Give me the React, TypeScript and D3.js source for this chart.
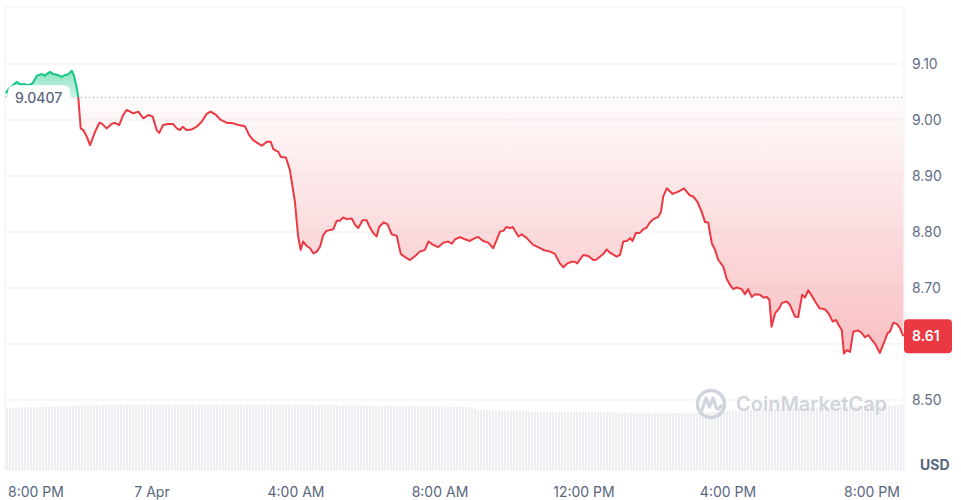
import React from 'react';
import * as d3 from 'd3';

// Hours relative to 7 Apr 00:00 and price in USD
const hours = [
  -4.06, -3.99, -3.76, -3.67, -3.53, -3.44, -3.31, -3.2, -3.06, -2.97, -2.93, -2.83, -2.74, -2.6, -2.51, -2.42, -2.32, -2.23, -2.17, -2.09, -2.05,
  -1.98, -1.91, -1.81, -1.72, -1.58, -1.46, -1.4, -1.26, -1.12, -1.03, -0.91, -0.8, -0.7, -0.52, -0.38, -0.24, -0.1, 0.02,
  0.13, 0.2, 0.31, 0.45, 0.58, 0.69, 0.78, 0.85, 0.96, 1.1, 1.24, 1.38, 1.52, 1.63, 1.78, 1.89, 2.08, 2.26, 2.4, 2.58, 2.7, 2.81,
  3.05, 3.19, 3.3, 3.37, 3.51, 3.58, 3.72, 3.83, 3.97, 4.06, 4.13, 4.2, 4.3, 4.39, 4.48, 4.58, 4.67, 4.76, 4.85, 5.04, 5.13, 5.22,
  5.31, 5.41, 5.55, 5.64, 5.73, 5.85, 5.96, 6.06, 6.15, 6.24, 6.31, 6.43, 6.54, 6.66, 6.8, 6.91, 7.03, 7.17, 7.31, 7.44, 7.58,
  7.68, 7.81, 7.95, 8.09, 8.23, 8.33, 8.42, 8.56, 8.69, 8.83, 8.97, 9.06, 9.2, 9.34, 9.48, 9.67, 9.76, 9.85, 9.94, 10.02, 10.18,
  10.27, 10.41, 10.59, 10.73, 10.87, 11.06, 11.19, 11.33, 11.43, 11.52, 11.66, 11.75, 11.81, 11.98, 12.12, 12.26, 12.35, 12.54,
  12.63, 12.72, 12.91, 13.0, 13.09, 13.19, 13.28, 13.35, 13.44, 13.54, 13.65, 13.74, 13.83, 13.93, 14.06, 14.14, 14.2, 14.3,
  14.46, 14.62, 14.78, 14.93, 15.04, 15.15, 15.27, 15.36, 15.45, 15.55, 15.64, 15.73, 15.87, 15.96, 16.06, 16.15, 16.24, 16.38,
  16.47, 16.56, 16.66, 16.75, 16.89, 16.98, 17.08, 17.15, 17.21, 17.31, 17.43, 17.49, 17.63, 17.72, 17.86, 17.95, 18.06, 18.14,
  18.23, 18.33, 18.42, 18.54, 18.69, 18.79, 18.91, 19.0, 19.09, 19.16, 19.22, 19.3, 19.39, 19.48, 19.62, 19.71, 19.81, 19.9,
  19.99, 20.08, 20.22, 20.36, 20.43, 20.5, 20.59, 20.69, 20.78, 20.87,
];
const prices = [
  9.048, 9.055, 9.068, 9.064, 9.064, 9.062, 9.066, 9.079, 9.082, 9.079, 9.082, 9.086, 9.082, 9.08, 9.077, 9.08, 9.082, 9.088, 9.08, 9.057, 9.042,
  8.985, 8.982, 8.97, 8.955, 8.979, 8.995, 8.994, 8.985, 8.993, 8.995, 8.991, 9.009, 9.018, 9.012, 9.015, 9.003, 9.009, 9.006,
  8.982, 8.977, 8.991, 8.993, 8.993, 8.985, 8.982, 8.988, 8.982, 8.983, 8.988, 8.997, 9.011, 9.015, 9.009, 9.001, 8.995, 8.994, 8.991, 8.989, 8.973, 8.964,
  8.954, 8.961, 8.961, 8.948, 8.943, 8.934, 8.933, 8.911, 8.854, 8.792, 8.768, 8.783, 8.775, 8.771, 8.762, 8.765, 8.774, 8.795, 8.802, 8.805, 8.82, 8.82,
  8.826, 8.823, 8.824, 8.813, 8.807, 8.821, 8.821, 8.807, 8.798, 8.792, 8.809, 8.817, 8.814, 8.796, 8.793, 8.761, 8.755, 8.75, 8.757, 8.765, 8.768,
  8.783, 8.777, 8.773, 8.781, 8.783, 8.779, 8.787, 8.791, 8.787, 8.784, 8.789, 8.791, 8.784, 8.781, 8.771, 8.801, 8.802, 8.809, 8.807, 8.809, 8.792,
  8.796, 8.789, 8.777, 8.773, 8.768, 8.765, 8.761, 8.744, 8.737, 8.743, 8.747, 8.747, 8.744, 8.759, 8.757, 8.75, 8.751, 8.761,
  8.769, 8.763, 8.756, 8.759, 8.783, 8.784, 8.789, 8.784, 8.798, 8.798, 8.805, 8.808, 8.817, 8.823, 8.827, 8.836, 8.863, 8.878,
  8.868, 8.872, 8.878, 8.866, 8.863, 8.854, 8.836, 8.818, 8.817, 8.78, 8.768, 8.75, 8.738, 8.717, 8.705, 8.698, 8.701, 8.698,
  8.689, 8.698, 8.684, 8.689, 8.688, 8.683, 8.684, 8.679, 8.631, 8.655, 8.664, 8.673, 8.676, 8.67, 8.649, 8.648, 8.688, 8.683,
  8.696, 8.686, 8.676, 8.664, 8.662, 8.655, 8.64, 8.643, 8.632, 8.625, 8.583, 8.589, 8.586, 8.622, 8.624, 8.62, 8.612, 8.616,
  8.608, 8.601, 8.584, 8.607, 8.619, 8.622, 8.638, 8.636, 8.628, 8.614,
];

// 24h volume (USD millions), sparse readings
const volHours = [-4.08, -0.61, 2.72, 6.89, 8.83, 9.11, 11.89, 14.67, 16.61, 20.89];
const volumes = [310, 325, 325, 320, 315, 300, 290, 285, 300, 325];

const priceTicks = [8.5, 8.6, 8.7, 8.8, 8.9, 9.0, 9.1];
const timeTickHours = [-4, 0, 4, 8, 12, 16, 20];
const openPrice = 9.0407;
const openLabel = '9.0407';
const lastLabel = '8.61';
const currency = 'USD';
const watermark = 'CoinMarketCap';

const W = 961;
const H = 500;
const L = 5, R = 904, T = 7, B = 470;
const base = new Date(2025, 3, 7, 0, 0, 0).getTime();
const toDate = (h: number) => new Date(base + h * 3600e3);

const GREEN = '#16c784';
const RED = '#ea3943';
const GRID = '#eff1f4';
const TEXT = '#58667e';
const FONT = 'Inter, "Noto Sans", sans-serif';

export default function App() {
  const x = d3.scaleTime().domain([toDate(-4.083), toDate(20.889)]).range([L, R]);
  const y = d3.scaleLinear().domain([8.375, 9.2018]).range([B, T]);
  const yVol = d3.scaleLinear().domain([0, 400]).range([B, B - 80]);

  const data = hours.map((h, i) => ({ t: toDate(h), p: prices[i] }));
  const by = y(openPrice);

  const line = d3.line<{ t: Date; p: number }>().x(d => x(d.t)).y(d => y(d.p));
  const area = d3.area<{ t: Date; p: number }>().x(d => x(d.t)).y0(by).y1(d => y(d.p));

  const vdata = volHours.map((h, i) => ({ t: toDate(h), v: volumes[i] }));
  const vArea = d3.area<{ t: Date; v: number }>()
    .x(d => Math.max(L, Math.min(R, x(d.t))))
    .y0(B)
    .y1(d => yVol(d.v))
    .curve(d3.curveMonotoneX);

  const last = data[data.length - 1];
  const lastY = y(last.p);
  const minY = y(d3.min(prices) as number);
  const maxY = y(d3.max(prices) as number);

  const fmtTime = d3.timeFormat('%-I:%M %p');
  const fmtDay = d3.timeFormat('%-d %b');

  return (
    <svg width={W} height={H} style={{ position: 'absolute', left: 0, top: 0, background: '#fff' }} fontFamily={FONT}>
      <defs>
        <clipPath id="above"><rect x={L} y={T} width={R - L} height={by - T} /></clipPath>
        <clipPath id="below"><rect x={L} y={by} width={R - L} height={B - by} /></clipPath>
        <linearGradient id="gGreen" gradientUnits="userSpaceOnUse" x1="0" y1={maxY} x2="0" y2={by}>
          <stop offset="0" stopColor={GREEN} stopOpacity={0.5} />
          <stop offset="1" stopColor={GREEN} stopOpacity={0.2} />
        </linearGradient>
        <linearGradient id="gRed" gradientUnits="userSpaceOnUse" x1="0" y1={by} x2="0" y2={minY}>
          <stop offset="0" stopColor={RED} stopOpacity={0.02} />
          <stop offset="1" stopColor={RED} stopOpacity={0.32} />
        </linearGradient>
        <pattern id="stripes" patternUnits="userSpaceOnUse" width="3" height="10">
          <rect x="0" y="0" width="2" height="10" fill="#eceef1" />
        </pattern>
      </defs>

      {/* frame */}
      <rect x={L} y={T} width={R - L} height={B - T} fill="none" stroke={GRID} strokeWidth={1} />

      {/* horizontal grid */}
      {priceTicks.map(p => (
        <line key={p} x1={L} x2={R} y1={y(p)} y2={y(p)} stroke={GRID} strokeWidth={1} />
      ))}

      {/* volume */}
      <path d={vArea(vdata) || ''} fill="url(#stripes)" />

      {/* watermark */}
      <g opacity={0.9}>
        <circle cx={711} cy={404} r={13.5} fill="none" stroke="#ccd1da" strokeWidth={3.5} />
        <path d="M702,410 L706,398 L709.5,407 L713,398 L716.5,408 Q718,411 721,406" fill="none" stroke="#ccd1da" strokeWidth={3.2} strokeLinejoin="round" strokeLinecap="round" />
        <text x={736} y={411} fontSize={20} fontWeight={600} fill="#ccd1da">{watermark}</text>
      </g>

      {/* areas */}
      <path d={area(data) || ''} fill="url(#gGreen)" clipPath="url(#above)" />
      <path d={area(data) || ''} fill="url(#gRed)" clipPath="url(#below)" />

      {/* baseline */}
      <line x1={L} x2={R} y1={by} y2={by} stroke="#a3abb8" strokeWidth={1} strokeDasharray="1 3" />

      {/* lines */}
      <path d={line(data) || ''} fill="none" stroke={GREEN} strokeWidth={2} strokeLinejoin="round" clipPath="url(#above)" />
      <path d={line(data) || ''} fill="none" stroke={RED} strokeWidth={2} strokeLinejoin="round" clipPath="url(#below)" />

      {/* open label */}
      <rect x={8} y={by - 12} width={62} height={27} rx={6} fill="#fff" />
      <text x={15} y={by + 6} fontSize={14} fontWeight={500} fill={TEXT}>{openLabel}</text>

      {/* y axis labels */}
      {priceTicks.filter(p => Math.abs(y(p) - lastY) > 20).map(p => (
        <text key={p} x={912} y={y(p) + 5} fontSize={14} fill="#616e85">{p.toFixed(2)}</text>
      ))}
      <text x={920} y={470} fontSize={14} fontWeight={700} fill={TEXT}>{currency}</text>

      {/* last price label */}
      <rect x={904} y={lastY - 17} width={48} height={34} rx={4} fill={RED} />
      <text x={912} y={lastY + 5} fontSize={14} fontWeight={600} fill="#fff">{lastLabel}</text>

      {/* x axis labels */}
      {timeTickHours.map(h => {
        const d = toDate(h);
        const xx = x(d);
        const label = d.getHours() === 0 ? fmtDay(d) : fmtTime(d);
        const anchor = xx - 29 < L ? 'start' : 'middle';
        return (
          <text key={h} x={xx} y={497} fontSize={14} fill={TEXT} textAnchor={anchor}>{label}</text>
        );
      })}
    </svg>
  );
}
